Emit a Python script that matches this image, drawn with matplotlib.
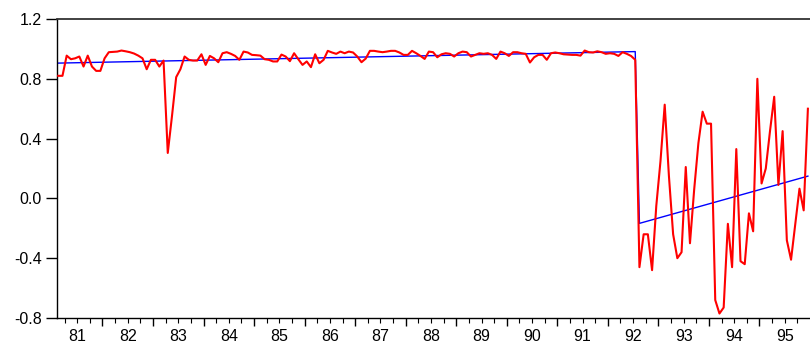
import numpy as np
import pandas as pd
import matplotlib
matplotlib.use("Agg")
import matplotlib.pyplot as plt
import matplotlib.ticker as ticker

plt.rcParams['font.family'] = ['Liberation Sans', 'DejaVu Sans']

# monthly observations, 1981M02 - 1992M07 (before the break)
before_break = [
    0.82, 0.82, 0.955, 0.931, 0.937, 0.949, 0.882, 0.955, 0.882, 0.853, 0.853,
    0.937, 0.978, 0.980, 0.982, 0.989, 0.984, 0.978, 0.969, 0.955, 0.937, 0.864, 0.927,
    0.927, 0.882, 0.922, 0.304, 0.55, 0.811, 0.864, 0.949, 0.927, 0.922, 0.922, 0.964,
    0.893, 0.953, 0.937, 0.911, 0.971, 0.978, 0.967, 0.953, 0.927, 0.982, 0.976, 0.960,
    0.958, 0.955, 0.931, 0.927, 0.916, 0.916, 0.962, 0.949, 0.918, 0.971, 0.931, 0.893,
    0.916, 0.878, 0.964, 0.904, 0.927, 0.987, 0.976, 0.967, 0.982, 0.971, 0.982, 0.976,
    0.949, 0.911, 0.935, 0.987, 0.987, 0.982, 0.978, 0.982, 0.987, 0.987, 0.976, 0.960,
    0.960, 0.987, 0.971, 0.953, 0.933, 0.982, 0.978, 0.944, 0.964, 0.971, 0.967, 0.949,
    0.971, 0.982, 0.978, 0.949, 0.960, 0.971, 0.967, 0.971, 0.960, 0.933, 0.982, 0.971,
    0.953, 0.978, 0.978, 0.971, 0.967, 0.909, 0.944, 0.960, 0.960, 0.927, 0.971, 0.976,
    0.971, 0.964, 0.962, 0.960, 0.960, 0.955, 0.989, 0.978, 0.976, 0.984, 0.978, 0.967,
    0.971, 0.967, 0.953, 0.978, 0.967, 0.953, 0.927,
]
# 1992M08 - 1995M12 (after the break)
after_break = [
    -0.46, -0.24, -0.24, -0.48, -0.05,
    0.25, 0.627, 0.15, -0.24, -0.40, -0.36, 0.21, -0.30, 0.06, 0.37, 0.58, 0.50,
    0.50, -0.68, -0.77, -0.73, -0.17, -0.46, 0.33, -0.42, -0.44, -0.10, -0.22, 0.80,
    0.10, 0.20, 0.45, 0.68, 0.09, 0.45, -0.28, -0.41, -0.17, 0.065, -0.08, 0.60,
]
series = before_break + after_break

# fitted broken trend: start / end value of each regime
trend_before = (0.905, 0.982)
trend_after = (-0.167, 0.149)

dates = pd.date_range("1981-02-01", periods=len(series), freq="MS")
t = dates.year + (dates.month - 0.5) / 12.0
n1 = len(before_break)

trend = np.concatenate([np.linspace(trend_before[0], trend_before[1], n1),
                        np.linspace(trend_after[0], trend_after[1], len(after_break))])

fig = plt.figure(figsize=(8.10, 3.43), dpi=100)
ax = fig.add_axes([57 / 810, 1 - 318 / 343, 753 / 810, 299 / 343])

ax.plot(t, series, color='#ff0000', lw=1.5, zorder=3)
ax.plot(t, trend, color='#0000ff', lw=1.0, zorder=2)

ax.set_xlim(1981.1, 1996.0)
ax.set_ylim(-0.8, 1.2)

ax.yaxis.set_major_locator(ticker.MultipleLocator(0.4))
ax.yaxis.set_major_formatter(ticker.FormatStrFormatter('%.1f'))
ax.tick_params(axis='y', direction='out', length=8, width=1, labelsize=11.5, pad=3)

# year boundaries as major ticks, quarters as minor, labels in year centres
ax.xaxis.set_major_locator(ticker.FixedLocator(np.arange(1982, 1996)))
ax.xaxis.set_minor_locator(ticker.FixedLocator(
    [q for q in np.arange(1981, 1996, 0.25) if q % 1 != 0]))
ax.xaxis.set_major_formatter(ticker.NullFormatter())
ax.tick_params(axis='x', which='major', direction='out', length=6, width=1)
ax.tick_params(axis='x', which='minor', direction='out', length=3.5, width=0.8)

years = np.arange(1981, 1996)
sec = ax.secondary_xaxis('bottom')
sec.set_xticks(years + 0.5)
sec.set_xticklabels([str(y)[2:] for y in years])
sec.tick_params(length=0, labelsize=11.5, pad=8)
sec.spines['bottom'].set_visible(False)

ax.spines['right'].set_visible(False)
ax.spines['top'].set_color('#333333')
ax.spines['top'].set_linewidth(1.3)
for s in ['left', 'bottom']:
    ax.spines[s].set_linewidth(1.0)

fig.savefig("out.png", dpi=100)
